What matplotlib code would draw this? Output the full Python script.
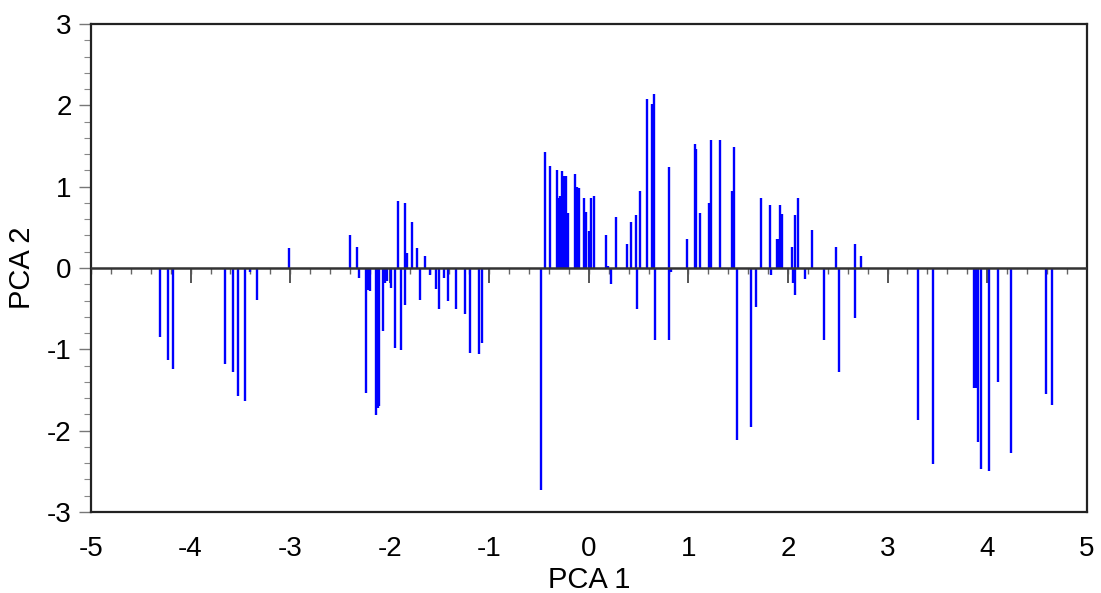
import matplotlib.pyplot as plt
import numpy as np

plt.rcParams['font.family'] = ['Liberation Sans', 'DejaVu Sans']
plt.rcParams['axes.unicode_minus'] = False

# PCA scores: position on PCA 1 and value on PCA 2
pca1 = [-4.31, -4.23, -4.18, -3.65, -3.57, -3.52, -3.45, -3.40, -3.33, -3.01,
        -2.40, -2.33, -2.31, -2.24, -2.22, -2.20, -2.14, -2.12, -2.11, -2.07,
        -2.05, -2.03, -1.99, -1.95, -1.92, -1.89, -1.85, -1.845, -1.83, -1.78,
        -1.73, -1.70, -1.65, -1.60, -1.54, -1.51, -1.46, -1.41, -1.33, -1.24,
        -1.19, -1.10, -1.07,
        -0.48, -0.44, -0.39, -0.32, -0.30, -0.285, -0.27, -0.25, -0.23, -0.21,
        -0.14, -0.12, -0.10, -0.05, -0.03, 0.00, 0.02, 0.05, 0.17, 0.19,
        0.22, 0.27, 0.38, 0.42, 0.47, 0.48, 0.51, 0.58, 0.63, 0.65,
        0.66, 0.80, 0.805, 0.82, 0.99, 1.07, 1.08, 1.12, 1.21, 1.23,
        1.32, 1.44, 1.46, 1.49, 1.63, 1.68, 1.73, 1.82, 1.825, 1.89,
        1.91, 1.92, 1.94, 2.04, 2.055, 2.07, 2.075, 2.10, 2.17, 2.24,
        2.36, 2.48, 2.51, 2.67, 2.675, 2.73,
        3.31, 3.46, 3.87, 3.89, 3.91, 3.94, 4.02, 4.11, 4.24, 4.59, 4.65]
pca2 = [-0.85, -1.13, -1.24, -1.18, -1.28, -1.57, -1.63, -0.05, -0.39, 0.24,
        0.41, 0.26, -0.12, -1.54, -0.27, -0.28, -1.81, -1.72, -1.70, -0.77,
        -0.18, -0.16, -0.25, -0.98, 0.83, -1.01, 0.80, -0.45, 0.18, 0.56,
        0.24, -0.39, 0.15, -0.09, -0.26, -0.50, -0.12, -0.41, -0.50, -0.56,
        -1.04, -1.06, -0.92,
        -2.73, 1.43, 1.25, 1.21, 0.86, 0.88, 1.19, 1.13, 1.13, 0.68,
        1.16, 0.99, 0.98, 0.86, 0.69, 0.45, 0.86, 0.89, 0.41, 0.02,
        -0.20, 0.63, 0.29, 0.56, 0.65, -0.50, 0.95, 2.08, 2.02, 2.14,
        -0.88, 1.24, -0.88, -0.05, 0.36, 1.52, 1.46, 0.68, 0.80, 1.58,
        1.58, 0.95, 1.49, -2.12, -1.96, -0.48, 0.86, 0.78, -0.09, 0.36,
        0.36, 0.78, 0.66, 0.26, -0.19, 0.65, -0.33, 0.86, -0.14, 0.47,
        -0.89, 0.26, -1.28, 0.29, -0.62, 0.15,
        -1.87, -2.41, -1.47, -1.47, -2.14, -2.47, -2.50, -1.40, -2.28, -1.55, -1.69]

fig = plt.figure(figsize=(11.01, 5.93), dpi=100)
ax = fig.add_axes([0.0827, 0.1366, 0.9043, 0.8229])

ax.vlines(pca1, 0, pca2, color='#0000ff', linewidth=1.7, zorder=2)

# zero line with its own tick marks hanging below it
minor_x = np.arange(-5, 5.001, 0.2)
major_x = np.arange(-5, 6, 1)
ax.vlines(minor_x, 0, -0.075, color='#666666', linewidth=1.0, zorder=1)
ax.vlines(major_x, 0, -0.18, color='#555555', linewidth=1.4, zorder=1)
ax.axhline(0, color='#333333', linewidth=1.8, zorder=3)

ax.set_xlim(-5, 5)
ax.set_ylim(-3, 3)
ax.set_xticks(major_x)
ax.set_yticks(np.arange(-3, 4, 1))
ax.set_yticks(np.arange(-3, 3.001, 0.2), minor=True)

ax.tick_params(axis='x', length=0, pad=17, labelsize=20)
ax.tick_params(axis='y', which='major', direction='out', length=9, width=1,
               color='#777777', pad=5, labelsize=20)
ax.tick_params(axis='y', which='minor', direction='out', length=5, width=0.8,
               color='#888888')

for s in ax.spines.values():
    s.set_linewidth(1.6)
    s.set_color('#222222')

ax.set_xlabel('PCA 1', fontsize=21, labelpad=3)
ax.set_ylabel('PCA 2', fontsize=21, labelpad=8)

fig.savefig('out.png', dpi=100)
